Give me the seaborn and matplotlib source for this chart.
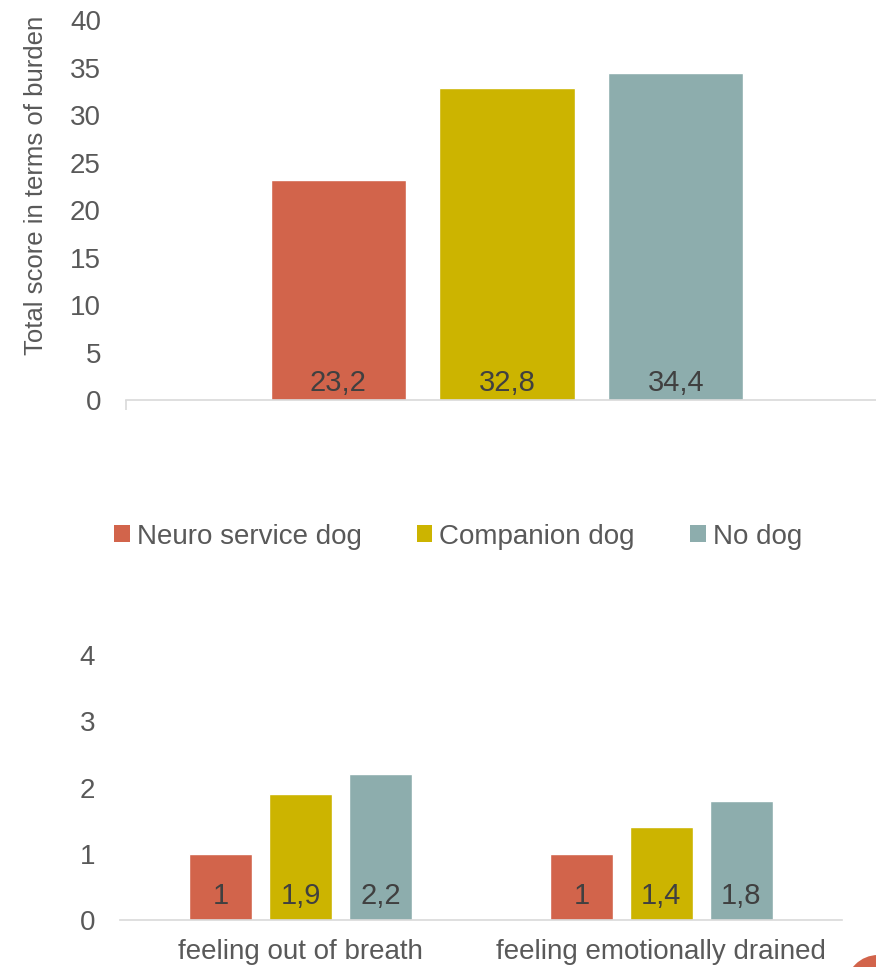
import matplotlib.pyplot as plt
import pandas as pd
import seaborn as sns
from matplotlib.patches import Patch, Circle
from matplotlib.transforms import IdentityTransform

# Data
groups = ['Neuro service dog', 'Companion dog', 'No dog']
total_scores = [23.2, 32.8, 34.4]
symptoms = ['feeling out of breath', 'feeling emotionally drained']
breath_scores = [1, 1.9, 2.2]
drained_scores = [1, 1.4, 1.8]
colors = ['#D2644B', '#CCB400', '#8DADAD']

sns.set_theme(style='white')
plt.rcParams['font.family'] = ['Liberation Sans', 'DejaVu Sans']

TXT = '#595959'
VAL = '#404040'
LINE = '#D9D9D9'

df_total = pd.DataFrame({'cat': ['all'] * len(groups), 'group': groups, 'score': total_scores})
df_sym = pd.DataFrame({
    'symptom': [s for s in symptoms for _ in groups],
    'group': groups * len(symptoms),
    'score': breath_scores + drained_scores,
})

fig = plt.figure(figsize=(8.76, 9.67), dpi=100)
ax1 = fig.add_axes([0.1438, 0.5863, 0.856, 0.393])
ax2 = fig.add_axes([0.137, 0.0486, 0.824, 0.274])


def style_axis(ax, ymax, step, offset):
    for c in ax.containers:
        for bar in c:
            v = bar.get_height()
            ax.annotate(f'{v:g}'.replace('.', ','),
                        (bar.get_x() + bar.get_width() / 2, 0),
                        xytext=(0, offset), textcoords='offset points',
                        ha='center', va='center', fontsize=21, color=VAL)
    ax.set_ylim(0, ymax)
    ax.set_yticks(range(0, ymax + 1, step))
    for s in ['top', 'right', 'left']:
        ax.spines[s].set_visible(False)
    ax.spines['bottom'].set_color(LINE)
    ax.spines['bottom'].set_linewidth(1.2)
    ax.tick_params(axis='y', length=0, pad=18, labelsize=20, labelcolor=TXT)
    ax.set_xlabel('')


# Top chart: total burden score
sns.barplot(data=df_total, x='cat', y='score', hue='group', palette=colors,
            saturation=1, width=0.665, gap=0.2, errorbar=None, legend=False, ax=ax1)
style_axis(ax1, 40, 5, 12)
ax1.set_xlim(-0.5, 0.484)
ax1.set_xticks([-0.5])
ax1.set_xticklabels([''])
ax1.tick_params(axis='x', length=7, color=LINE, width=1.2, bottom=True)
ax1.set_ylabel('Total score in terms of burden', fontsize=18.5, color=TXT)
ax1.yaxis.set_label_coords(-0.104, 0.566)

# Bottom chart: individual symptoms
sns.barplot(data=df_sym, x='symptom', y='score', hue='group', palette=colors,
            saturation=1, width=0.665, gap=0.21, errorbar=None, legend=False, ax=ax2)
style_axis(ax2, 4, 1, 17)
ax2.set_xlim(-0.5, 1.5)
ax2.set_ylabel('')
ax2.tick_params(axis='x', length=0, pad=14, labelsize=20, labelcolor=TXT)

# Shared legend between the charts
handles = [Patch(facecolor=c, edgecolor='none') for c in colors]
fig.legend(handles, groups, loc='center', bbox_to_anchor=(0.523, 0.445), ncol=3,
           frameon=False, fontsize=20, labelcolor=TXT, handlelength=0.55,
           handleheight=0.55, handletextpad=0.25, columnspacing=2.0)

# Decorative circle cut off in the bottom-right corner
fig.add_artist(Circle((878, -20), 32, transform=IdentityTransform(),
                      facecolor='#D2644B', edgecolor='none'))

fig.savefig('out.png', dpi=100)
